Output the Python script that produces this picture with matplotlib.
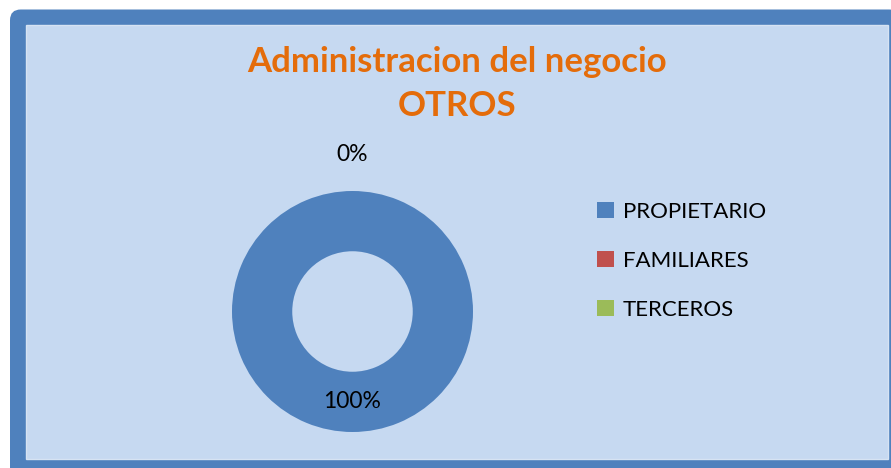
import math
import matplotlib.pyplot as plt
from matplotlib.patches import FancyBboxPatch, Rectangle

categories = ['PROPIETARIO', 'FAMILIARES', 'TERCEROS']
values = [100, 0, 0]
colors = ['#4F81BD', '#C0504D', '#9BBB59']

W, H = 891, 468
plt.rcParams['font.family'] = ['Lato', 'DejaVu Sans']

fig = plt.figure(figsize=(W / 100, H / 100), dpi=100)
fig.patch.set_facecolor('white')

# pixel coords (y from top) -> figure fraction
def px(x, y):
    return x / W, 1 - y / H

# outer blue frame and light chart area
frame = FancyBboxPatch(px(10, 480), (900 - 10) / W, (480 - 9.5) / H,
                       boxstyle='round,pad=0,rounding_size=0.012',
                       transform=fig.transFigure, facecolor='#4F81BD',
                       edgecolor='none', mutation_aspect=W / H, zorder=-2)
fig.patches.append(frame)
inner = Rectangle(px(26, 459), (888 - 26) / W, (459 - 25) / H,
                  transform=fig.transFigure, facecolor='#C6D9F1',
                  edgecolor='#D6E3F3', linewidth=1, zorder=-1)
fig.patches.append(inner)

fig.text(*px(457, 62), 'Administracion del negocio', ha='center', va='center',
         fontsize=25, fontweight='bold', color='#E46C0A')
fig.text(*px(457, 106), 'OTROS', ha='center', va='center',
         fontsize=25, fontweight='bold', color='#E46C0A')

# donut
cx, cy, r = 352.5, 311.5, 120.5
ax = fig.add_axes([(cx - r) / W, (H - cy - r) / H, 2 * r / W, 2 * r / H])
wedges, _ = ax.pie(values, colors=colors, startangle=90, counterclock=False,
                   radius=1, wedgeprops=dict(width=0.5, edgecolor='none'))
ax.set_xlim(-1, 1)
ax.set_ylim(-1, 1)
ax.set_aspect('equal')
ax.axis('off')

total = sum(values)
done = set()
for w, v in zip(wedges, values):
    mid = math.radians((w.theta1 + w.theta2) / 2)
    d = 0.75 if v > 0 else 1.3
    key = (round(mid, 3), d)
    if key in done:
        continue
    done.add(key)
    ax.text(d * math.cos(mid), d * math.sin(mid), f'{v / total * 100:.0f}%',
            ha='center', va='center', fontsize=16.5, color='black')

fig.legend(wedges, categories, loc='upper left',
           bbox_to_anchor=px(577, 182), frameon=False, fontsize=16,
           handlelength=0.75, handleheight=0.75, handletextpad=0.4,
           labelspacing=1.3)

fig.savefig('out.png', dpi=100, facecolor='white')
